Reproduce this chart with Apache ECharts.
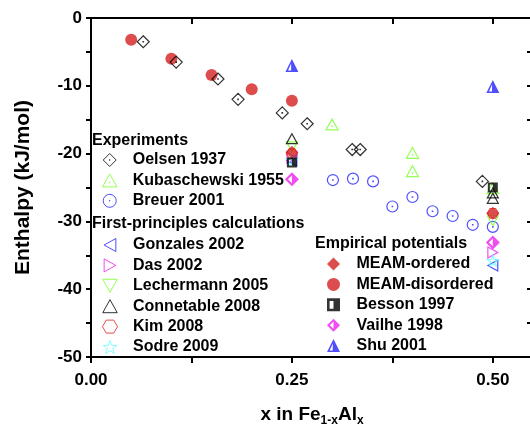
<!DOCTYPE html>
<html><head><meta charset="utf-8">
<script src="https://cdn.jsdelivr.net/npm/echarts@6/dist/echarts.min.js"></script>
<style>html,body{margin:0;padding:0;background:#fff}#c{width:530px;height:428px}</style>
</head><body><div id="c"></div>
<script>
// ---- data (x in Fe1-xAlx, enthalpy kJ/mol) ----
var oelsen = [[0.065,-3.5],[0.106,-6.5],[0.158,-9.0],[0.183,-12.0],[0.238,-14.0],[0.269,-15.6],[0.325,-19.4],[0.335,-19.4],[0.487,-24.1]];
var kubaschewski = [[0.30,-15.7],[0.40,-19.9],[0.40,-22.6],[0.50,-25.1]];
var breuer = [[0.301,-23.9],[0.326,-23.7],[0.351,-24.1],[0.375,-27.8],[0.40,-26.4],[0.425,-28.5],[0.45,-29.2],[0.475,-30.5],[0.50,-30.8]];
var gonzales = [[0.25,-21.0],[0.50,-36.5]];
var das = [[0.25,-20.6],[0.50,-34.6]];
var lechermann = [[0.25,-19.0],[0.50,-29.9]];
var connetable = [[0.25,-17.8],[0.50,-25.8],[0.50,-26.6]];
var kim = [[0.25,-20.0],[0.50,-28.8]];
var sodre = [[0.25,-21.0],[0.50,-35.8]];
var meamOrdered = [[0.25,-19.8],[0.50,-28.8]];
var meamDisordered = [[0.05,-3.2],[0.10,-6.0],[0.15,-8.4],[0.20,-10.5],[0.25,-12.2]];
var besson = [[0.25,-21.3],[0.50,-25.0]];
var vailhe = [[0.25,-23.8],[0.50,-33.1]];
var shu = [[0.25,-7.0],[0.50,-10.1]];

var xTickLabels = [0, 0.25, 0.5];
var xTicks = [0, 0.125, 0.25, 0.375, 0.5];
var yTickLabels = [0, -10, -20, -30, -40, -50];

var groupExp = ['Oelsen 1937','Kubaschewski 1955','Breuer 2001'];
var groupFP = ['Gonzales 2002','Das 2002','Lechermann 2005','Connetable 2008','Kim 2008','Sodre 2009'];
var groupEmp = ['MEAM-ordered','MEAM-disordered','Besson 1997','Vailhe 1998','Shu 2001'];

// ---- symbols ----
var DOT = 'M4.8,4.8L5.2,4.8L5.2,5.2L4.8,5.2Z';
var S = {
  diamondDot: 'path://M5,0L10,5L5,10L0,5Z' + DOT,
  circleDot: 'path://M0,5A5,5 0 1,1 10,5A5,5 0 1,1 0,5Z' + DOT,
  triDot: 'path://M5,0L10,9L0,9Z' + 'M4.8,5.8L5.2,5.8L5.2,6.2L4.8,6.2Z',
  triUp: 'path://M5,0L10,9L0,9Z',
  triDown: 'path://M0,0L10,0L5,9Z',
  triLeft: 'path://M0,5L9,0L9,10Z',
  triRight: 'path://M9,5L0,0L0,10Z',
  hexagon: 'path://M2.5,0L7.5,0L10,4.33L7.5,8.66L2.5,8.66L0,4.33Z',
  star: 'path://M5,0L6.18,3.38L9.76,3.45L6.9,5.62L7.94,9.05L5,7L2.06,9.05L3.1,5.62L0.24,3.45L3.82,3.38Z',
  diamond: 'path://M5,0L10,5L5,10L0,5Z',
  halfSquare: 'path://M0,0H10V10H0Z M2,2V8H5V2Z',
  halfDiamond: 'path://M5,0L10,5L5,10L0,5Z M5,2.2L2.2,5L5,7.8Z',
  halfTri: 'path://M5,0L10,10L0,10Z M4.4,3.5L2,8.8L4.4,8.8Z'
};

var BLACK='#000', GREEN='#7cff2a', BLUE='#2222ff', MAG='#ee22ee', RED='#d42121', CYAN='#6ff', RED2='#dd2222';

function hollow(name, data, sym, color, size){
  return {type:'scatter', name:name, data:data, symbol:sym, symbolSize:size||11, symbolKeepAspect:true,
    itemStyle:{color:'rgba(255,255,255,0)', borderColor:color, borderWidth:1.2}, emphasis:{disabled:true}};
}
function filled(name, data, sym, color, size){
  return {type:'scatter', name:name, data:data, symbol:sym, symbolSize:size||11, symbolKeepAspect:true,
    itemStyle:{color:color, borderWidth:0}, emphasis:{disabled:true}};
}

var series = [
  filled('MEAM-disordered', meamDisordered, 'circle', RED, 12),
  hollow('Oelsen 1937', oelsen, S.diamondDot, BLACK, 12),
  hollow('Kubaschewski 1955', kubaschewski, S.triDot, GREEN, 12),
  hollow('Breuer 2001', breuer, S.circleDot, BLUE, 11),
  hollow('Gonzales 2002', gonzales, S.triLeft, BLUE, 11),
  hollow('Das 2002', das, S.triRight, MAG, 11),
  hollow('Lechermann 2005', lechermann, S.triDown, GREEN, 11),
  hollow('Connetable 2008', connetable, S.triUp, BLACK, 11),
  hollow('Kim 2008', kim, S.hexagon, RED2, 11),
  hollow('Sodre 2009', sodre, S.star, CYAN, 11),
  filled('MEAM-ordered', meamOrdered, S.diamond, RED, 13),
  filled('Besson 1997', besson, S.halfSquare, BLACK, 10),
  filled('Vailhe 1998', vailhe, S.halfDiamond, MAG, 14),
  filled('Shu 2001', shu, S.halfTri, BLUE, 13)
];

var FONT = '"Liberation Sans", Arial, sans-serif';
function legend(data, left, top){
  return {data:data, orient:'vertical', left:left, top:top, padding:0, itemWidth:36, itemHeight:13, itemGap:4.4,
    selectedMode:false, itemStyle:{borderWidth:1},
    textStyle:{fontFamily:FONT, fontWeight:'bold', fontSize:16, lineHeight:16, color:'#000'}};
}

var axisLineStyle = {color:'#000', width:2};
var XMAX = 0.55;
var option = {
  animation:false,
  backgroundColor:'#fff',
  grid:{left:91, top:18, width:442, height:339, containLabel:false, outerBoundsMode:'none'},
  xAxis:[{
    type:'value', min:0, max:XMAX, position:'bottom',
    axisLine:{show:true, onZero:false, lineStyle:axisLineStyle},
    axisTick:{show:true, inside:false, length:6, lineStyle:{color:'#000', width:2}, customValues:xTicks},
    axisLabel:{show:true, customValues:xTickLabels, formatter:function(v){return v.toFixed(2);}, margin:15,
      fontFamily:FONT, fontWeight:'bold', fontSize:17, color:'#000'},
    splitLine:{show:false},
    name:'{a|x in Fe}{s|1-x}{a|Al}{s|x}', nameLocation:'middle', nameGap:46,
    nameTextStyle:{rich:{
      a:{fontFamily:FONT, fontWeight:'bold', fontSize:19, color:'#000', lineHeight:24},
      s:{fontFamily:FONT, fontWeight:'bold', fontSize:12, color:'#000', lineHeight:12, verticalAlign:'bottom', padding:[14,0,0,0]}
    }}
  },{
    type:'value', min:0, max:XMAX, position:'top',
    axisLine:{show:true, onZero:false, lineStyle:axisLineStyle},
    axisTick:{show:true, inside:true, length:6, lineStyle:{color:'#000', width:2}, customValues:xTicks},
    axisLabel:{show:false}, splitLine:{show:false}
  }],
  yAxis:[{
    type:'value', min:-50, max:0, interval:5, position:'left',
    axisLine:{show:true, onZero:false, lineStyle:axisLineStyle},
    axisTick:{show:true, inside:false, length:5, lineStyle:{color:'#000', width:2}},
    axisLabel:{show:true, customValues:yTickLabels, margin:9, fontFamily:FONT, fontWeight:'bold', fontSize:17, color:'#000'},
    splitLine:{show:false},
    name:'Enthalpy (kJ/mol)', nameLocation:'middle', nameGap:57,
    nameTextStyle:{fontFamily:FONT, fontWeight:'bold', fontSize:21, color:'#000'}
  },{
    type:'value', min:-50, max:0, interval:5, position:'right',
    axisLine:{show:true, onZero:false, lineStyle:axisLineStyle},
    axisTick:{show:true, inside:true, length:6, lineStyle:{color:'#000', width:2}},
    axisLabel:{show:false}, splitLine:{show:false}
  }],
  legend:[ legend(groupExp, 102, 152), legend(groupFP, 102, 237), legend(groupEmp, 327, 256) ],
  graphic:[
    {type:'text', left:92, top:133, style:{text:'Experiments', font:'bold 16px '+FONT, fill:'#000'}},
    {type:'text', left:92, top:216, style:{text:'First-principles calculations', font:'bold 16px '+FONT, fill:'#000'}},
    {type:'text', left:315, top:236, style:{text:'Empirical potentials', font:'bold 16px '+FONT, fill:'#000'}}
  ],
  series: series
};
series.forEach(function(s){ s.xAxisIndex = 0; s.yAxisIndex = 0; });
var chart = echarts.init(document.getElementById('c'), null, {renderer:'canvas'});
chart.setOption(option);
</script></body></html>
